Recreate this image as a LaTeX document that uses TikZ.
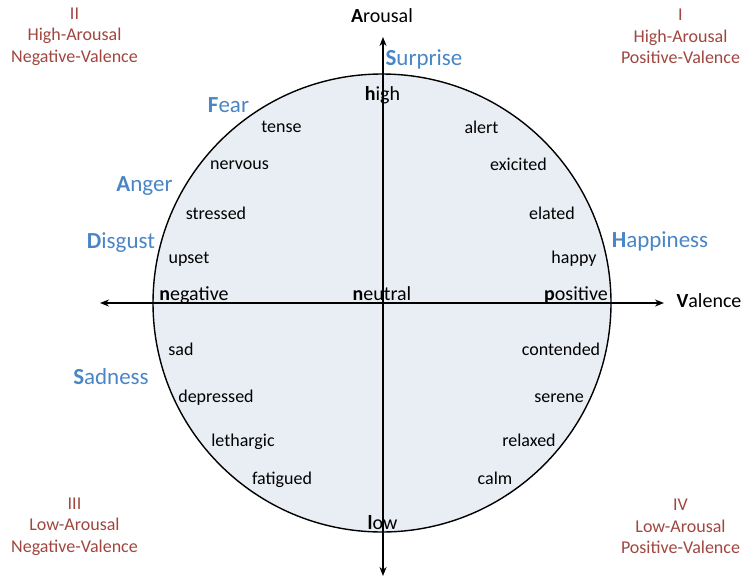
\documentclass[tikz,border=0pt]{standalone}
\usepackage{fontspec}
\setmainfont{Carlito}
\usetikzlibrary{arrows.meta}

\definecolor{emoblue}{HTML}{4A86C6}
\definecolor{quadred}{HTML}{A0463F}
\definecolor{wheelfill}{HTML}{E9EEF4}

\tikzset{
  word/.style={anchor=base, inner sep=0pt, font=\fontsize{18}{21.5}\selectfont},
  pole/.style={anchor=base, inner sep=0pt, font=\fontsize{20}{24}\selectfont},
  emotion/.style={anchor=base, inner sep=0pt, text=emoblue, font=\fontsize{23}{27}\selectfont},
  quadrant/.style={anchor=center, inner sep=0pt, align=center, text=quadred,
                   font=\fontsize{18}{21.5}\selectfont},
  axis/.style={line width=1.4pt, {Stealth[length=9pt,width=7pt]}-{Stealth[length=9pt,width=7pt]}}
}

\begin{document}
\begin{tikzpicture}[x=1pt, y=-1pt]
  \useasboundingbox (0,0) rectangle (751,578);

  % the emotion wheel
  \node[circle, draw, line width=1.4pt, fill=wheelfill, inner sep=0pt, outer sep=0pt,
        minimum size=458pt] (wheel) at (382,303) {};

  % axes
  \coordinate (aTop) at (383,37);
  \coordinate (aBot) at (383,576);
  \coordinate (vLeft) at (100,303);
  \coordinate (vRight) at (664,303);
  \draw[axis] (aBot) -- (aTop);
  \draw[axis] (vLeft) -- (vRight);

  % axis titles
  \node[pole] (arousal) at (382,23) {\textbf{A}rousal};
  \node[pole] (valence) at (709,307) {\textbf{V}alence};

  % poles of the axes
  \node[pole] (high) at (382.5,100) {\textbf{h}igh};
  \node[pole] (low) at (382.5,529) {\textbf{l}ow};
  \node[pole] (negative) at (194,300) {\textbf{n}egative};
  \node[pole] (neutral) at (382,300) {\textbf{n}eutral};
  \node[pole] (positive) at (576,300) {\textbf{p}ositive};

  % basic emotions
  \node[emotion] (surprise) at (424,65) {\textbf{S}urprise};
  \node[emotion] (fear) at (228.5,112) {\textbf{F}ear};
  \node[emotion] (anger) at (144.5,191) {\textbf{A}nger};
  \node[emotion] (disgust) at (121,248) {\textbf{D}isgust};
  \node[emotion] (happiness) at (660,247) {\textbf{H}appiness};
  \node[emotion] (sadness) at (111,384) {\textbf{S}adness};

  % affect words, left half
  \node[word] (tense) at (281.5,132) {tense};
  \node[word] (nervous) at (239.5,169) {nervous};
  \node[word] (stressed) at (216,219) {stressed};
  \node[word] (upset) at (189,263) {upset};
  \node[word] (sad) at (181,355) {sad};
  \node[word] (depressed) at (216,402) {depressed};
  \node[word] (lethargic) at (243,446) {lethargic};
  \node[word] (fatigued) at (282,484) {fatigued};

  % affect words, right half
  \node[word] (alert) at (481.5,133) {alert};
  \node[word] (excited) at (518.5,170) {exicited};
  \node[word] (elated) at (552,219) {elated};
  \node[word] (happy) at (574,263) {happy};
  \node[word] (contended) at (561,355) {contended};
  \node[word] (serene) at (559,402) {serene};
  \node[word] (relaxed) at (529,446) {relaxed};
  \node[word] (calm) at (495,484) {calm};

  % quadrant captions
  \node[quadrant] (q2) at (74.5,36.5) {II\\High-Arousal\\Negative-Valence};
  \node[quadrant] (q1) at (680.5,36.5) {I\\High-Arousal\\Positive-Valence};
  \node[quadrant] (q3) at (74.5,526.5) {III\\Low-Arousal\\Negative-Valence};
  \node[quadrant] (q4) at (680.5,526.5) {IV\\Low-Arousal\\Positive-Valence};
\end{tikzpicture}
\end{document}
